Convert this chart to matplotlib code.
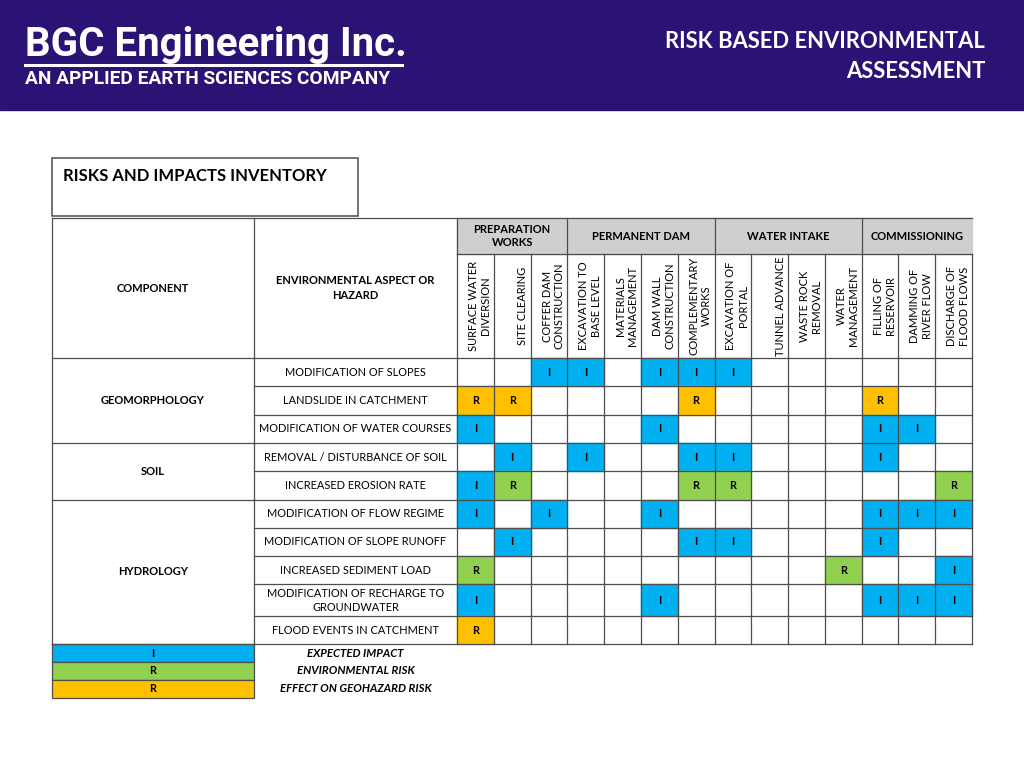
import matplotlib.pyplot as plt
from matplotlib.patches import Rectangle

plt.rcParams['font.family'] = ['Lato', 'DejaVu Sans']

# ---- data ----
components = ['GEOMORPHOLOGY', 'SOIL', 'HYDROLOGY']
component_rows = [3, 2, 5]
aspects = ['MODIFICATION OF SLOPES', 'LANDSLIDE IN CATCHMENT',
           'MODIFICATION OF WATER COURSES', 'REMOVAL / DISTURBANCE OF SOIL',
           'INCREASED EROSION RATE', 'MODIFICATION OF FLOW REGIME',
           'MODIFICATION OF SLOPE RUNOFF', 'INCREASED SEDIMENT LOAD',
           'MODIFICATION OF RECHARGE TO\nGROUNDWATER', 'FLOOD EVENTS IN CATCHMENT']
groups = ['PREPARATION\nWORKS', 'PERMANENT DAM', 'WATER INTAKE', 'COMMISSIONING']
group_sizes = [3, 4, 4, 3]
activities = ['SURFACE WATER\nDIVERSION', 'SITE CLEARING', 'COFFER DAM\nCONSTRUCTION',
              'EXCAVATION TO\nBASE LEVEL', 'MATERIALS\nMANAGEMENT', 'DAM WALL\nCONSTRUCTION',
              'COMPLEMENTARY\nWORKS', 'EXCAVATION OF\nPORTAL', 'TUNNEL ADVANCE',
              'WASTE ROCK\nREMOVAL', 'WATER\nMANAGEMENT', 'FILLING OF\nRESERVOIR',
              'DAMMING OF\nRIVER FLOW', 'DISCHARGE OF\nFLOOD FLOWS']
# I = expected impact, R = environmental risk, G = effect on geohazard risk
marks = ['..II.III......',
         'GG....G....G..',
         'I....I.....II.',
         '.I.I..II...I..',
         'IR....RR.....R',
         'I.I..I.....III',
         '.I....II...I..',
         'R.........R..I',
         'I....I.....III',
         'G.............']
legend_codes = ['I', 'R', 'G']
legend_labels = ['EXPECTED IMPACT', 'ENVIRONMENTAL RISK', 'EFFECT ON GEOHAZARD RISK']

colors = {'I': '#00B0F0', 'R': '#92D050', 'G': '#FFC000'}
shown = {'I': 'I', 'R': 'R', 'G': 'R'}

# ---- layout (pixel coordinates) ----
fig = plt.figure(figsize=(10.24, 7.68), dpi=100)
ax = fig.add_axes([0, 0, 1, 1])
ax.set_xlim(0, 1024)
ax.set_ylim(768, 0)
ax.axis('off')

purple = '#2B1275'
ax.add_patch(Rectangle((0, 0), 1024, 110, color=purple, zorder=0))
ax.text(25, 45, 'BGC Engineering Inc.', color='white', fontsize=29, fontweight='bold',
        family=['Roboto', 'DejaVu Sans'], va='center', ha='left')
ax.plot([25, 402], [65, 65], color='white', lw=2.2)
ax.text(25, 79, 'AN APPLIED EARTH SCIENCES COMPANY', color='white', fontsize=13.8,
        fontweight='bold', family=['Roboto', 'DejaVu Sans'],
        va='center', ha='left')
ax.text(985, 42, 'RISK BASED ENVIRONMENTAL', color='white', fontsize=15.8,
        fontweight='bold', va='center', ha='right')
ax.text(985, 72, 'ASSESSMENT', color='white', fontsize=15.8,
        fontweight='bold', va='center', ha='right')

line_c = '#4d4d4d'
lw = 0.9

# title box
ax.add_patch(Rectangle((52, 158), 306, 58, fill=False, ec=line_c, lw=1.1))
ax.text(63, 176, 'RISKS AND IMPACTS INVENTORY', fontsize=12, fontweight='bold',
        va='center', ha='left')

x0, x1, x2, x3 = 52, 254, 457, 972
ncol = len(activities)
cw = (x3 - x2) / ncol
y_top, y_grp, y_hdr = 218, 254, 358
row_h = [28.3, 28.3, 28.3, 28.3, 28.3, 28.3, 28.3, 28.3, 32, 28]
row_edges = [y_hdr]
for h in row_h:
    row_edges.append(row_edges[-1] + h)
y_end = row_edges[-1]

# group header cells
ax.add_patch(Rectangle((x2, y_top), x3 - x2, y_grp - y_top, color='#D0CECE', zorder=0))
c = 0
for g, n in zip(groups, group_sizes):
    xa, xb = x2 + c * cw, x2 + (c + n) * cw
    ax.plot([xa, xa], [y_top, y_grp], color=line_c, lw=lw)
    ax.text((xa + xb) / 2, (y_top + y_grp) / 2, g, fontsize=8, fontweight='bold',
            ha='center', va='center', multialignment='center', linespacing=1.3)
    c += n

# activity headers (rotated)
for j, a in enumerate(activities):
    xr = x2 + (j + 1) * cw
    ax.text(xr - 2.5, (y_grp + y_hdr) / 2, a, rotation=90, fontsize=8,
            ha='right', va='center', multialignment='center', linespacing=1.15)

ax.text((x0 + x1) / 2, 289, 'COMPONENT', fontsize=8, fontweight='bold',
        ha='center', va='center')
ax.text((x1 + x2) / 2, 288, 'ENVIRONMENTAL ASPECT OR\nHAZARD', fontsize=8,
        fontweight='bold', ha='center', va='center', linespacing=1.5)

# data cells
for i, row in enumerate(marks):
    ya, yb = row_edges[i], row_edges[i + 1]
    for j, code in enumerate(row):
        if code in colors:
            xa = x2 + j * cw
            ax.add_patch(Rectangle((xa, ya), cw, yb - ya, color=colors[code], zorder=1))
            ax.text(xa + cw / 2, (ya + yb) / 2, shown[code], fontsize=7.8, fontweight='bold',
                    ha='center', va='center', zorder=3)
    ax.text((x1 + x2) / 2, (ya + yb) / 2, aspects[i], fontsize=7.9, ha='center',
            va='center', multialignment='center', linespacing=1.4)

# component cells
r = 0
for comp, n in zip(components, component_rows):
    ya, yb = row_edges[r], row_edges[r + n]
    ax.plot([x0, x1], [ya, ya], color=line_c, lw=lw, zorder=2)
    ax.text((x0 + x1) / 2, (ya + yb) / 2, comp, fontsize=8, fontweight='bold',
            ha='center', va='center')
    r += n

# grid lines
for y in row_edges:
    ax.plot([x1, x3], [y, y], color=line_c, lw=lw, zorder=2)
ax.plot([x2, x3], [y_grp, y_grp], color=line_c, lw=lw, zorder=2)
ax.plot([x0, x3], [y_top, y_top], color=line_c, lw=lw, zorder=2)
for j in range(ncol + 1):
    xv = x2 + j * cw
    ax.plot([xv, xv], [y_grp, y_end], color=line_c, lw=lw, zorder=2)
for xv in (x0, x1):
    ax.plot([xv, xv], [y_top, y_end], color=line_c, lw=lw, zorder=2)
ax.plot([x0, x1], [y_end, y_end], color=line_c, lw=lw, zorder=2)

# legend
leg_h = 17.7
for k, (code, lab) in enumerate(zip(legend_codes, legend_labels)):
    ya = y_end + k * leg_h
    ax.add_patch(Rectangle((x0, ya), x1 - x0, leg_h, fc=colors[code], ec=line_c,
                           lw=lw, zorder=1))
    ax.text((x0 + x1) / 2, ya + leg_h / 2, shown[code], fontsize=7.8, fontweight='bold',
            ha='center', va='center')
    ax.text((x1 + x2) / 2, ya + leg_h / 2, lab, fontsize=8.2, fontweight='bold',
            fontstyle='italic', ha='center', va='center')

fig.savefig('out.png', dpi=100)
